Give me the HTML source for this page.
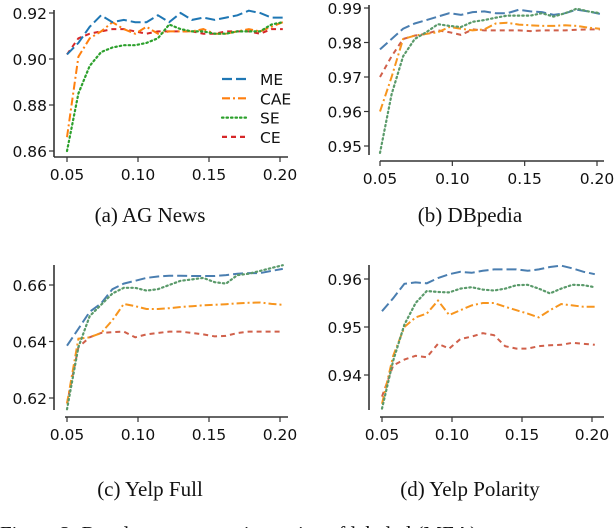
<!DOCTYPE html>
<html><head><meta charset="utf-8"><style>
html,body{margin:0;padding:0;background:#fff;width:614px;height:528px;overflow:hidden}
svg{display:block}
.t{font-family:"DejaVu Sans","Liberation Sans",sans-serif;font-size:15.5px;fill:#111}
.cap{font-family:"Liberation Serif",serif;font-size:21px;fill:#111}
</style></head><body>
<svg id="c" width="614" height="528"></svg>
<script>
const xs = [0.05,0.058,0.066,0.074,0.082,0.09,0.098,0.106,0.114,0.122,0.13,0.138,0.146,0.154,0.162,0.17,0.178,0.186,0.194,0.202];
const xTicks = [0.05,0.10,0.15,0.20];
const seriesNames = ["ME","CAE","SE","CE"];
const agME  = [.902,.907,.914,.919,.916,.917,.916,.916,.919,.916,.920,.917,.918,.917,.918,.919,.921,.920,.918,.918];
const agCAE = [.866,.901,.909,.912,.916,.913,.911,.914,.911,.912,.912,.912,.913,.911,.911,.912,.913,.912,.914,.916];
const agSE  = [.860,.885,.897,.903,.905,.906,.906,.907,.909,.915,.913,.912,.912,.911,.911,.912,.912,.912,.915,.916];
const agCE  = [.902,.909,.911,.912,.913,.913,.912,.911,.912,.912,.912,.912,.911,.911,.912,.912,.912,.911,.913,.913];
const agYTicks = [0.86,0.88,0.90,0.92];
const dbME  = [.978,.981,.984,.9855,.9865,.9875,.9885,.988,.9888,.989,.9885,.9885,.9895,.989,.9888,.988,.9885,.9895,.989,.9883];
const dbCAE = [.960,.970,.981,.982,.9825,.983,.9845,.984,.9835,.9838,.9855,.9857,.9852,.985,.9848,.9848,.985,.9848,.9843,.984];
const dbSE  = [.948,.965,.976,.981,.983,.9853,.9848,.9845,.986,.9865,.9872,.9878,.9878,.9878,.9885,.9875,.9885,.9898,.989,.9885];
const dbCE  = [.970,.976,.981,.982,.9825,.9835,.983,.9822,.9838,.9835,.9835,.9835,.9835,.9833,.9835,.9835,.9835,.9837,.9838,.9838];
const dbYTicks = [0.95,0.96,0.97,0.98,0.99];
const yfME  = [.6385,.6445,.6505,.6535,.6585,.6605,.6615,.6625,.663,.6633,.6633,.6632,.6632,.6632,.6635,.664,.6642,.6642,.665,.6657];
const yfCAE = [.618,.641,.6415,.643,.6475,.6533,.6525,.6515,.6515,.6518,.6522,.6525,.6528,.653,.6532,.6535,.6537,.6538,.6533,.653];
const yfSE  = [.616,.638,.649,.653,.657,.659,.659,.658,.6585,.66,.6615,.662,.6625,.661,.6605,.6635,.664,.665,.666,.667];
const yfCE  = [.618,.638,.6415,.643,.6433,.6435,.6415,.6425,.643,.6435,.6435,.643,.6425,.6418,.642,.643,.6435,.6435,.6435,.6435];
const yfYTicks = [0.62,0.64,0.66];
const ypME  = [.9533,.956,.959,.9593,.9591,.9602,.961,.9615,.9613,.9617,.962,.962,.962,.9617,.962,.9625,.9628,.9622,.9615,.961];
const ypCAE = [.934,.944,.950,.952,.9528,.9555,.9525,.9535,.9545,.955,.955,.9542,.9535,.9528,.952,.9535,.9548,.9545,.9542,.9542];
const ypSE  = [.933,.943,.9505,.955,.9575,.9573,.9572,.958,.9583,.9578,.9576,.958,.9587,.9588,.958,.957,.958,.9588,.9587,.9583];
const ypCE  = [.9355,.942,.9432,.944,.9437,.9465,.9455,.9475,.948,.9487,.9483,.946,.9455,.9455,.946,.9462,.9463,.9467,.9465,.9463];
const ypYTicks = [0.94,0.95,0.96];

const NS="http://www.w3.org/2000/svg";
const svg=document.getElementById('c');
function mk(tag,attrs,parent){const e=document.createElementNS(NS,tag);for(const k in attrs)e.setAttribute(k,attrs[k]);(parent||svg).appendChild(e);return e;}
const dashes=["10,4","8,3,2,3","1.5,3","5,4"];
const bright=["#1f77b4","#ff7f0e","#2ca02c","#d62728"];
const muted=["#4a7eb0","#f7951e","#5a9a6a","#d0604a"];

const panels=[
 {id:"ag-news",data:[agME,agCAE,agSE,agCE],yt:agYTicks,ylo:0.86,yhi:0.92,pylo:151,pyhi:13,x05:67,x20:280,axX:54,axTop:10,axBot:157,xAxY:157,xAxL:54,xAxR:288,cols:bright,cap:"(a) AG News",capX:150,capY:222},
 {id:"dbpedia",data:[dbME,dbCAE,dbSE,dbCE],yt:dbYTicks,ylo:0.95,yhi:0.99,pylo:146,pyhi:8,x05:380,x20:597,axX:369,axTop:5,axBot:155,xAxY:161,xAxL:380,xAxR:604,cols:muted,cap:"(b) DBpedia",capX:470,capY:222},
 {id:"yelp-full",data:[yfME,yfCAE,yfSE,yfCE],yt:yfYTicks,ylo:0.62,yhi:0.66,pylo:398,pyhi:285,x05:67,x20:280,axX:54,axTop:265,axBot:410,xAxY:417,xAxL:65,xAxR:288,cols:muted,cap:"(c) Yelp Full",capX:150,capY:496},
 {id:"yelp-polarity",data:[ypME,ypCAE,ypSE,ypCE],yt:ypYTicks,ylo:0.94,yhi:0.96,pylo:375,pyhi:279,x05:382,x20:592,axX:369,axTop:265,axBot:410,xAxY:417,xAxL:380,xAxR:604,cols:muted,cap:"(d) Yelp Polarity",capX:470,capY:496}
];

panels.forEach(p=>{
  const g=mk('g',{});
  
  
  const X=v=>p.x05+(v-0.05)*(p.x20-p.x05)/0.15;
  const Y=v=>p.pylo+(v-p.ylo)*(p.pyhi-p.pylo)/(p.yhi-p.ylo);
  const ya=mk('line',{x1:p.axX,x2:p.axX,y1:p.axTop,y2:p.axBot,stroke:"#333","stroke-width":1.6},g);
  
  
  const xa=mk('line',{x1:p.xAxL,x2:p.xAxR,y1:p.xAxY,y2:p.xAxY,stroke:"#333","stroke-width":1.6},g);
  
  
  p.yt.forEach(v=>{
    mk('line',{x1:p.axX-5,x2:p.axX,y1:Y(v),y2:Y(v),stroke:"#333","stroke-width":1.2},g);
    const t=mk('text',{x:p.axX-7,y:Y(v)+6,"text-anchor":"end",class:"t"},g);
    t.textContent=v.toFixed(2);
    
    
  });
  xTicks.forEach(v=>{
    mk('line',{x1:X(v),x2:X(v),y1:p.xAxY,y2:p.xAxY+5,stroke:"#333","stroke-width":1.2},g);
    const t=mk('text',{x:X(v),y:p.xAxY+23,"text-anchor":"middle",class:"t"},g);
    t.textContent=v.toFixed(2);
    
    
  });
  [3,1,0,2].forEach(i=>{
    const d=p.data[i].map((v,j)=>(j?'L':'M')+X(xs[j]).toFixed(1)+','+Y(v).toFixed(1)).join('');
    const pa=mk('path',{d:d,fill:"none",stroke:p.cols[i],"stroke-width":i==2?2.2:2,"stroke-dasharray":dashes[i],"stroke-linecap":i==2?"round":"butt"},g);
    
    
  });
  const c=mk('text',{x:p.capX,y:p.capY,"text-anchor":"middle",class:"cap"},g);
  c.textContent=p.cap;
  
  
});

const lg=mk('g',{});


seriesNames.forEach((n,i)=>{
  const y=79+i*19.3;
  mk('line',{x1:222,x2:249,y1:y,y2:y,stroke:bright[i],"stroke-width":2.2,"stroke-dasharray":dashes[i],"stroke-linecap":i==2?"round":"butt"},lg);
  const t=mk('text',{x:260,y:y+6,class:"t"},lg);
  t.textContent=n;
  
  
});
const f=mk('text',{x:0,y:541,class:"cap"});
f.setAttribute('fill','#555');
f.textContent="Figure 2: Results across varying ratios of labeled (MEA)";


</script>
</body></html>
